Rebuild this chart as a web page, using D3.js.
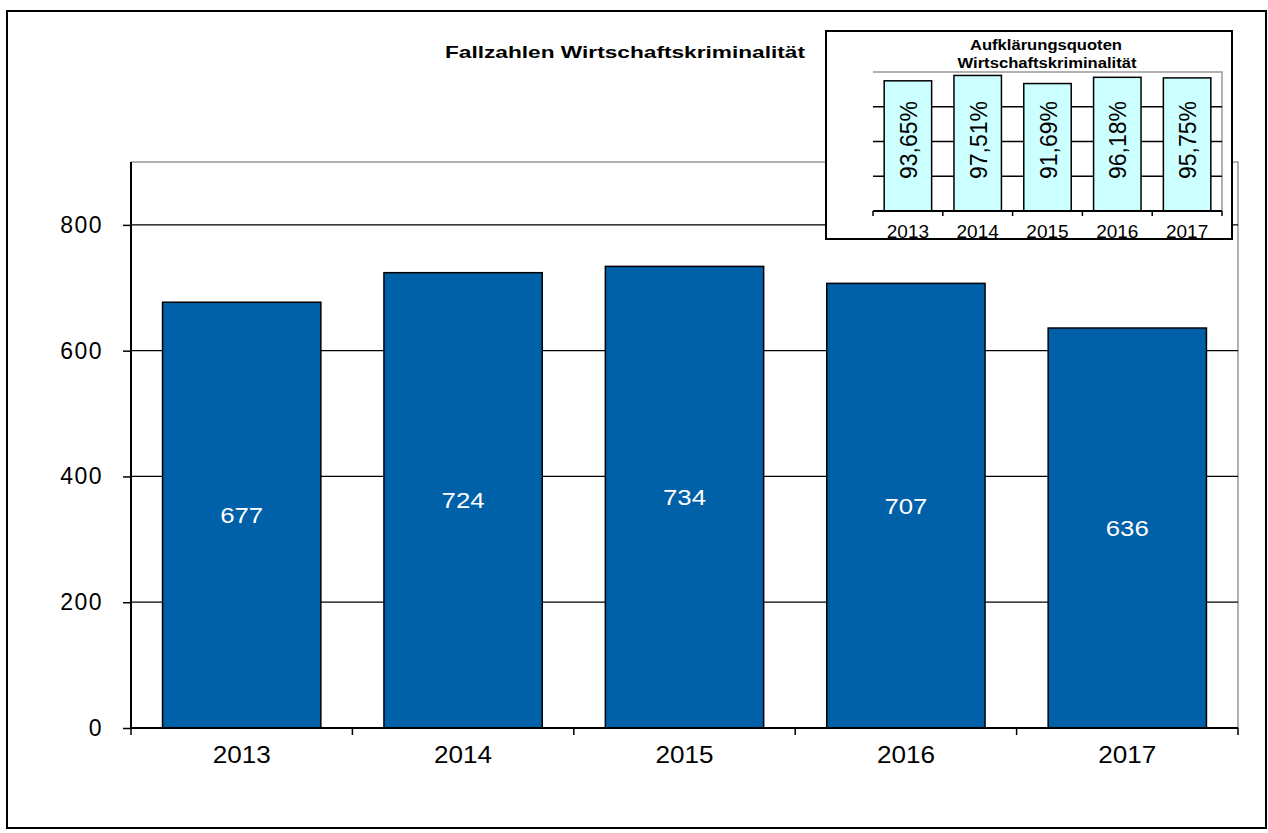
<!DOCTYPE html>
<html>
<head>
<meta charset="utf-8">
<script src="https://cdn.jsdelivr.net/npm/d3@7"></script>
<style>
  body { margin: 0; background: #fff; }
  text { font-family: "Liberation Sans", Arial, sans-serif; }
</style>
</head>
<body>
<script>
// data
const years = ["2013", "2014", "2015", "2016", "2017"]
const cases = [677, 724, 734, 707, 636]
const quotes = [93.65, 97.51, 91.69, 96.18, 95.75]
const yTicks = [0, 200, 400, 600, 800]

const width = 1268
const height = 833

const svg = d3.select("body")
    .append("svg")
    .attr("width", width)
    .attr("height", height)

// outer frame
svg.append("rect")
    .attr("x", 7).attr("y", 11)
    .attr("width", 1259).attr("height", 817)
    .attr("fill", "white")
    .attr("stroke", "black")
    .attr("stroke-width", 2)

// main plot
const pLeft = 131, pRight = 1238, pTop = 162, pBottom = 728

const x = d3.scaleBand().domain(years).range([pLeft, pRight]).paddingInner(0.285).paddingOuter(0.1425)
const xTick = d3.scaleBand().domain(years).range([pLeft, pRight])
const y = d3.scaleLinear().domain([0, 900]).range([pBottom, pTop])

// plot area border (gray)
svg.append("path")
    .attr("d", "M" + pLeft + "," + pTop + "H" + pRight + "V" + pBottom)
    .attr("fill", "none")
    .attr("stroke", "#999")
    .attr("stroke-width", 1.5)

// gridlines
svg.selectAll("line.grid")
    .data(yTicks.filter(function(d) { return d > 0 }))
    .enter().append("line")
    .attr("class", "grid")
    .attr("x1", pLeft).attr("x2", pRight)
    .attr("y1", function(d) { return y(d) })
    .attr("y2", function(d) { return y(d) })
    .attr("stroke", "black")
    .attr("stroke-width", 1.3)

// bars
svg.selectAll("rect.bar")
    .data(cases)
    .enter().append("rect")
    .attr("class", "bar")
    .attr("x", function(d, i) { return x(years[i]) })
    .attr("width", x.bandwidth())
    .attr("y", function(d) { return y(d) })
    .attr("height", function(d) { return pBottom - y(d) })
    .attr("fill", "#0060a8")
    .attr("stroke", "black")
    .attr("stroke-width", 1.5)

svg.selectAll("text.val")
    .data(cases)
    .enter().append("text")
    .attr("class", "val")
    .attr("x", function(d, i) { return x(years[i]) + x.bandwidth() / 2 })
    .attr("y", function(d) { return (y(d) + pBottom) / 2 + 8 })
    .attr("text-anchor", "middle")
    .attr("font-size", 22)
    .attr("textLength", 43)
    .attr("lengthAdjust", "spacingAndGlyphs")
    .attr("fill", "white")
    .text(function(d) { return d })

// axes
const yAxis = svg.append("g")
    .attr("transform", "translate(" + pLeft + ",0)")
    .call(d3.axisLeft(y).tickValues(yTicks).tickSize(8).tickPadding(20))
yAxis.selectAll("text").attr("font-size", 23).attr("fill", "black")
    .attr("font-family", "Liberation Sans, Arial, sans-serif")
    .attr("letter-spacing", 1.5)
yAxis.selectAll("line").attr("stroke-width", 1.5)
yAxis.select(".domain").attr("stroke-width", 2).attr("d", "M0," + pTop + "V" + pBottom)

const xAxis = svg.append("g")
    .attr("transform", "translate(0," + pBottom + ")")
xAxis.append("line")
    .attr("x1", pLeft).attr("x2", pRight)
    .attr("stroke", "black").attr("stroke-width", 2)
xAxis.selectAll("line.tick")
    .data(years.concat(["end"]))
    .enter().append("line")
    .attr("class", "tick")
    .attr("x1", function(d, i) { return pLeft + i * xTick.step() })
    .attr("x2", function(d, i) { return pLeft + i * xTick.step() })
    .attr("y1", 0).attr("y2", 7)
    .attr("stroke", "black").attr("stroke-width", 1.5)
xAxis.selectAll("text")
    .data(years)
    .enter().append("text")
    .attr("x", function(d) { return xTick(d) + xTick.bandwidth() / 2 })
    .attr("y", 35)
    .attr("text-anchor", "middle")
    .attr("font-size", 23)
    .attr("textLength", 58)
    .attr("lengthAdjust", "spacingAndGlyphs")
    .text(function(d) { return d })

// title
svg.append("text")
    .attr("x", 625).attr("y", 58)
    .attr("text-anchor", "middle")
    .attr("font-size", 17)
    .attr("font-weight", "bold")
    .attr("textLength", 360)
    .attr("lengthAdjust", "spacingAndGlyphs")
    .text("Fallzahlen Wirtschaftskriminalität")

// inset
const inset = svg.append("g")
inset.append("rect")
    .attr("x", 826).attr("y", 31)
    .attr("width", 406).attr("height", 208)
    .attr("fill", "white")
    .attr("stroke", "black")
    .attr("stroke-width", 2)

inset.append("text")
    .attr("x", 1046).attr("y", 50)
    .attr("text-anchor", "middle")
    .attr("font-size", 14)
    .attr("font-weight", "bold")
    .attr("textLength", 152)
    .attr("lengthAdjust", "spacingAndGlyphs")
    .text("Aufklärungsquoten")
inset.append("text")
    .attr("x", 1047).attr("y", 68)
    .attr("text-anchor", "middle")
    .attr("font-size", 14)
    .attr("font-weight", "bold")
    .attr("textLength", 179)
    .attr("lengthAdjust", "spacingAndGlyphs")
    .text("Wirtschaftskriminalität")

const iLeft = 873, iRight = 1222, iTop = 72, iBottom = 211
const ix = d3.scaleBand().domain(years).range([iLeft, iRight]).paddingInner(0.32).paddingOuter(0.16)
const ixTick = d3.scaleBand().domain(years).range([iLeft, iRight])
const iy = d3.scaleLinear().domain([0, 100]).range([iBottom, iTop])

inset.append("path")
    .attr("d", "M" + iLeft + "," + iTop + "H" + iRight + "V" + iBottom)
    .attr("fill", "none")
    .attr("stroke", "#999")
    .attr("stroke-width", 1.5)

inset.selectAll("line.igrid")
    .data([25, 50, 75])
    .enter().append("line")
    .attr("class", "igrid")
    .attr("x1", iLeft).attr("x2", iRight)
    .attr("y1", function(d) { return iy(d) })
    .attr("y2", function(d) { return iy(d) })
    .attr("stroke", "black")
    .attr("stroke-width", 1.3)

inset.selectAll("rect.ibar")
    .data(quotes)
    .enter().append("rect")
    .attr("class", "ibar")
    .attr("x", function(d, i) { return ix(years[i]) })
    .attr("width", ix.bandwidth())
    .attr("y", function(d) { return iy(d) })
    .attr("height", function(d) { return iBottom - iy(d) })
    .attr("fill", "#ccffff")
    .attr("stroke", "black")
    .attr("stroke-width", 1.5)

inset.selectAll("text.ival")
    .data(quotes)
    .enter().append("text")
    .attr("class", "ival")
    .attr("transform", function(d, i) {
        return "translate(" + (ix(years[i]) + ix.bandwidth() / 2 + 9) + "," + 140 + ") rotate(-90)"
    })
    .attr("text-anchor", "middle")
    .attr("font-size", 23)
    .text(function(d) { return d.toFixed(2).replace(".", ",") + "%" })

inset.append("line")
    .attr("x1", iLeft).attr("x2", iRight)
    .attr("y1", iBottom).attr("y2", iBottom)
    .attr("stroke", "black").attr("stroke-width", 2)
inset.selectAll("line.itick")
    .data(years.concat(["end"]))
    .enter().append("line")
    .attr("class", "itick")
    .attr("x1", function(d, i) { return iLeft + i * ixTick.step() })
    .attr("x2", function(d, i) { return iLeft + i * ixTick.step() })
    .attr("y1", iBottom).attr("y2", iBottom + 5)
    .attr("stroke", "black").attr("stroke-width", 1.5)
inset.selectAll("text.ix")
    .data(years)
    .enter().append("text")
    .attr("class", "ix")
    .attr("x", function(d) { return ixTick(d) + ixTick.bandwidth() / 2 })
    .attr("y", 238)
    .attr("text-anchor", "middle")
    .attr("font-size", 19)
    .text(function(d) { return d })
</script>
</body>
</html>
